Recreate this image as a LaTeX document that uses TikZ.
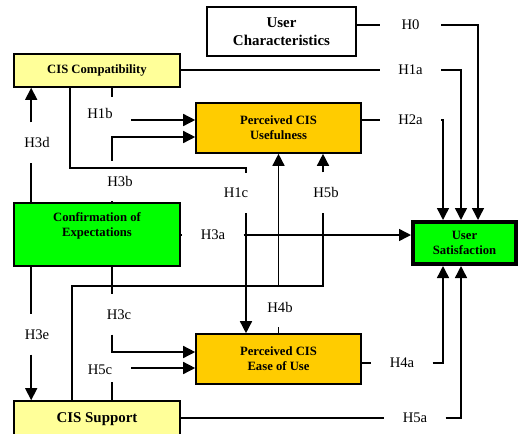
\documentclass[tikz,border=0pt]{standalone}
\usepackage{fontspec}
\setmainfont{Liberation Serif}
\usetikzlibrary{arrows.meta,calc}
\definecolor{cisyellow}{HTML}{FFFF99}
\definecolor{cisorange}{HTML}{FFCC00}
\definecolor{cisgreen}{HTML}{00FF00}

\begin{document}
\begin{tikzpicture}[x=0.75pt,y=-0.75pt,line width=1.1pt,
  box/.style={draw,line width=1.2pt,align=center,inner sep=0pt,
    font=\bfseries\fontsize{9.5}{11.25}\selectfont},
  bigbox/.style={box,font=\bfseries\fontsize{11.2}{13.5}\selectfont},
  hyp/.style={inner sep=0pt,font=\fontsize{11}{13}\selectfont},
  hgap/.style={hyp,minimum width=45pt},
  vgap/.style={hyp,minimum height=29.25pt},
  arr/.style={-{Triangle[length=9pt,width=9pt]}}]
\useasboundingbox (0,0) rectangle (520,433);

%% constructs
\node[bigbox,minimum width=111.75pt,minimum height=36.75pt] (uc) at (281.5,31.5) {User\\Characteristics};
\node[box,fill=cisyellow,minimum width=124.5pt,minimum height=24.75pt] (cc) at (97,70.5) {CIS Compatibility};
\node[box,fill=cisorange,minimum width=123.75pt,minimum height=37.5pt] (pu) at (278.5,128) {Perceived CIS\\Usefulness};
\node[box,fill=cisgreen,minimum width=124.5pt,minimum height=47.25pt,
  label={[box,draw=none,yshift=6.75pt]center:Confirmation of\\Expectations}] (ce) at (97,234.5) {};
\node[box,fill=cisgreen,line width=3pt,minimum width=77.25pt,minimum height=31.5pt] (us) at (464.5,243) {User\\Satisfaction};
\node[box,fill=cisorange,minimum width=123.75pt,minimum height=37.5pt] (pe) at (278.5,359) {Perceived CIS\\Ease of Use};
\node[bigbox,fill=cisyellow,minimum width=124.5pt,minimum height=27pt] (cs) at (97,419) {CIS Support};

%% hypotheses into user satisfaction
\node[hgap] (h0) at (410.5,25) {H0};
\node[hgap] (h1a) at (410.5,70) {H1a};
\node[hgap] (h2a) at (410.5,120) {H2a};
\node[hgap] (h3a) at (213,235) {H3a};
\node[hgap] (h4a) at (402,363) {H4a};
\node[hgap] (h5a) at (415,418) {H5a};

\draw (uc.east |- h0) -- (h0.west);
\draw[arr] (h0.east) -| ($(us.north west)+(67,0)$);
\draw (cc.east |- h1a) -- (h1a.west);
\draw[arr] (h1a.east) -| ($(us.north west)+(50,0)$);
\draw (pu.east |- h2a) -- (h2a.west);
\draw[arr] (h2a.east) -| ($(us.north west)+(32,0)$);
\draw (ce.east |- h3a) -- (h3a.west);
\draw[arr] (h3a.east) -- (us.west |- h3a);
\draw (pe.east |- h4a) -- (h4a.west);
\draw[arr] (h4a.east) -| ($(us.south west)+(32,0)$);
\draw (cs.east |- h5a) -- (h5a.west);
\draw[arr] (h5a.east) -| ($(us.south west)+(50,0)$);

%% left column
\coordinate (l3d) at ($(cc.south west)+(18,0)$);
\coordinate (l3b) at ($(cc.south west)+(99,0)$);
\node[vgap] (h3d) at (37,142.5) {H3d};
\node[vgap] (h3e) at (37,334.5) {H3e};
\draw (l3d |- ce.north) -- (l3d |- h3d.south);
\draw[arr] (l3d |- h3d.north) -- (l3d);
\draw (l3d |- ce.south) -- (l3d |- h3e.north);
\draw[arr] (l3d |- h3e.south) -- (l3d |- cs.north);

%% H1b, H3b
\node[hyp] (h1b) at (100,113) {H1b};
\coordinate (h1bout) at (131,120);
\draw (l3b) -- ++(0,9);
\draw[arr] (h1bout) -- (pu.west |- h1bout);
\node[vgap] (h3b) at (120,181) {H3b};
\draw (l3b |- ce.north) -- (l3b |- h3b.south);
\draw[arr] (l3b |- h3b.north) |- ($(pu.west)+(0,9)$);

%% H3c, H5c
\node[vgap] (h3c) at (119,314.5) {H3c};
\draw (l3b |- ce.south) -- (l3b |- h3c.north);
\draw[arr] (l3b |- h3c.south) |- ($(pe.west)+(0,-7)$);
\node[hyp] (h5c) at (100,370) {H5c};
\coordinate (h5cout) at (131,368);
\draw (l3b |- cs.north) -- ++(0,-18);
\draw[arr] (h5cout) -- (pe.west |- h5cout);

%% H1c
\coordinate (l1c) at ($(cc.south west)+(57,0)$);
\coordinate (k1c) at (246,168);
\node[vgap] (h1c) at (236,193) {H1c};
\draw (l1c) |- (k1c) -- (k1c |- h1c.north);
\draw[arr] (k1c |- h1c.south) -- (k1c |- pe.north);

%% H4b
\node[vgap] (h4b) at (280,307) {H4b};
\draw (pe.north) -- (pe.north |- h4b.south);
\draw[arr] (pe.north |- h4b.north) -- (pu.south);

%% H5b
\coordinate (l5s) at ($(cs.north west)+(59,0)$);
\coordinate (k5b) at (323,286);
\node[vgap] (h5b) at (326,192.5) {H5b};
\draw (l5s) |- (k5b) -- (k5b |- h5b.south);
\draw[arr] (k5b |- h5b.north) -- (k5b |- pu.south);

\end{tikzpicture}
\end{document}
